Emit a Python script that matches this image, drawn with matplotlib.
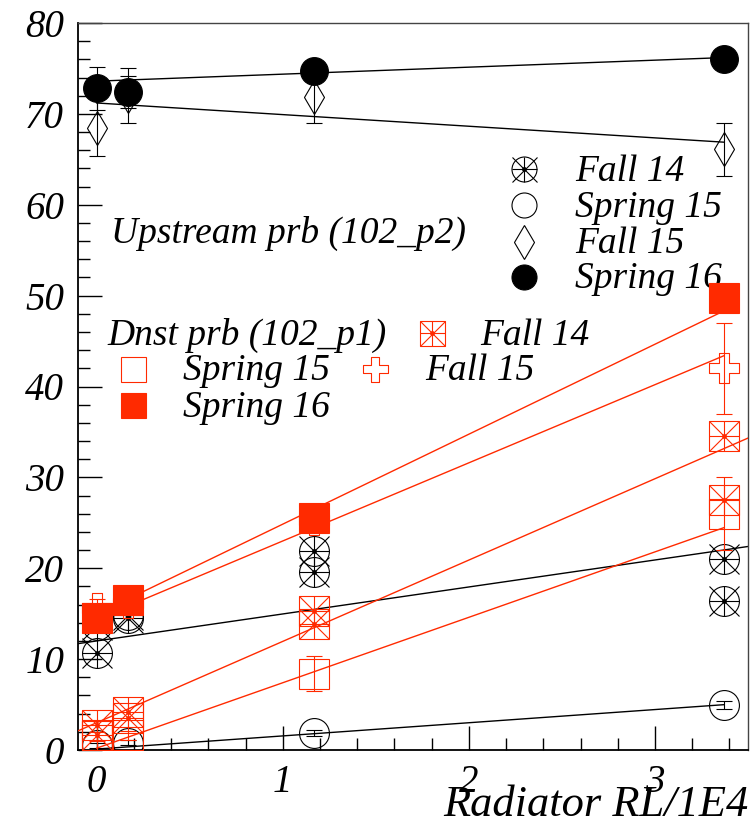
import numpy as np
import matplotlib.pyplot as plt
from matplotlib.path import Path

plt.rcParams['font.family'] = ['Liberation Serif', 'DejaVu Serif']
plt.rcParams['font.style'] = 'italic'

RED = '#ff2a00'
BLACK = 'black'

radiator = np.array([0.0, 0.17, 1.17, 3.37])

# upstream probe (102_p2)
up_fall14_a = [10.7, 14.9, 21.9, 21.0]
up_fall14_b = [13.8, 14.5, 19.6, 16.4]
up_spring15 = [0.5, 0.8, 1.85, 4.96]
up_spring15_err = [0.3, 0.3, 0.3, 0.4]
up_fall15 = [68.5, 72.0, 71.9, 66.1]
up_fall15_err = [3.1, 3.0, 2.9, 2.95]
up_spring16 = [72.8, 72.4, 74.7, 76.0]
up_spring16_err = [2.4, 1.8, 0.8, 0.8]

# downstream probe (102_p1)
dn_fall14_a = [2.7, 4.2, 15.3, 34.5]
dn_fall14_b = [1.7, 3.5, 13.9, 27.5]
dn_spring15 = [1.5, 1.6, 8.4, 26.0]
dn_spring15_err = [0.5, 0.5, 1.9, 4.0]
dn_fall15 = [15.6, 16.2, 25.3, 42.0]
dn_fall15_err = [1.0, 1.0, 1.0, 5.0]
dn_spring16 = [14.5, 16.5, 25.5, 49.7]

# linear fits: (intercept, slope, x range)
up_fall14_fit = (12.0, 2.97, (-0.1, 3.5))
up_spring15_fit = (0.1, 1.45, (0.0, 3.37))
up_fall15_fit = (71.2, -1.28, (0.0, 3.37))
up_spring16_fit = (73.6, 0.77, (0.0, 3.37))
dn_fall14_fit = (3.0, 8.95, (-0.1, 3.5))
dn_spring15_fit = (0.2, 7.2, (0.0, 3.37))
dn_fall15_fit = (14.4, 8.6, (0.0, 3.37))
dn_spring16_fit = (14.95, 9.9, (0.0, 3.37))

# open cross marker
s = 1.0 / 6
cross_verts = [(-s, -0.5), (s, -0.5), (s, -s), (0.5, -s), (0.5, s), (s, s),
               (s, 0.5), (-s, 0.5), (-s, s), (-0.5, s), (-0.5, -s), (-s, -s),
               (-s, -0.5)]
open_cross = Path(cross_verts, closed=True)

MS = 21.5
MEW = 0.8


def starred(ax, x, y, base, color, ms=MS, z=3, **kw):
    for m in (base, '+', 'x'):
        ax.plot(x, y, ls='none', marker=m, ms=ms, mfc='none', mec=color,
                mew=MEW, zorder=z, **kw)
    ax.plot(x, y, ls='none', marker='o', ms=2.5, mfc=color, mec=color,
            zorder=z, **kw)


def simple(ax, x, y, marker, color, filled, ms=MS, z=3, **kw):
    ax.plot(x, y, ls='none', marker=marker, ms=ms,
            mfc=color if filled else 'none', mec=color, mew=MEW, zorder=z, **kw)


def errbars(ax, x, y, err, color, z=3):
    ax.errorbar(x, y, yerr=err, fmt='none', ecolor=color, elinewidth=MEW,
                capsize=5.5, capthick=MEW, zorder=z)


def fit_line(ax, fit, color, z=3):
    a, b, (lo, hi) = fit
    xf = np.array([lo, hi])
    ax.plot(xf, a + b * xf, color=color, lw=1.0, zorder=z)


fig = plt.figure(figsize=(7.51, 8.31), dpi=100)
ax = fig.add_axes([78 / 751, 1 - 750 / 831, 670 / 751, 727 / 831])

# upstream probe
fit_line(ax, up_fall14_fit, BLACK, 2)
starred(ax, radiator, up_fall14_a, 'o', BLACK, z=2)
starred(ax, radiator, up_fall14_b, 'o', BLACK, z=2)

fit_line(ax, up_spring15_fit, BLACK, 2)
errbars(ax, radiator, up_spring15, up_spring15_err, BLACK, 2)
simple(ax, radiator, up_spring15, 'o', BLACK, False, z=2)

fit_line(ax, up_fall15_fit, BLACK, 2)
errbars(ax, radiator, up_fall15, up_fall15_err, BLACK, 2)
simple(ax, radiator, up_fall15, 'd', BLACK, False, ms=17, z=2)

fit_line(ax, up_spring16_fit, BLACK, 2)
errbars(ax, radiator, up_spring16, up_spring16_err, BLACK, 2)
simple(ax, radiator, up_spring16, 'o', BLACK, True, ms=20, z=2)

# downstream probe
fit_line(ax, dn_fall14_fit, RED, 3)
starred(ax, radiator, dn_fall14_a, 's', RED, z=3)
starred(ax, radiator, dn_fall14_b, 's', RED, z=3)

fit_line(ax, dn_spring15_fit, RED, 3)
errbars(ax, radiator, dn_spring15, dn_spring15_err, RED, 3)
simple(ax, radiator, dn_spring15, 's', RED, False, z=3)

fit_line(ax, dn_fall15_fit, RED, 3)
errbars(ax, radiator, dn_fall15, dn_fall15_err, RED, 3)
simple(ax, radiator, dn_fall15, open_cross, RED, False, z=3)

fit_line(ax, dn_spring16_fit, RED, 4)
simple(ax, radiator, dn_spring16, 's', RED, True, ms=21, z=4)

ax.set_xlim(-0.1, 3.5)
ax.set_ylim(0, 80)
ax.set_xticks([0, 1, 2, 3])
ax.set_xticks(np.arange(-0.0, 3.5, 0.2), minor=True)
ax.set_yticks(np.arange(0, 81, 10))
ax.set_yticks(np.arange(0, 81, 2), minor=True)
ax.tick_params(which='major', direction='in', length=17, width=1.0,
               labelsize=28)
ax.tick_params(which='minor', direction='in', length=8.5, width=1.0)
ax.tick_params(axis='y', pad=10)
ax.tick_params(axis='x', pad=10)
for side in ('left', 'bottom'):
    ax.spines[side].set_linewidth(1.3)
for side in ('top', 'right'):
    ax.spines[side].set_linewidth(1.0)
    ax.spines[side].set_color('#444444')

ax.text(1.0, -0.076, 'Radiator RL/1E4', transform=ax.transAxes,
        ha='right', va='center', fontsize=32)

# upstream legend
ax.text(0.075, 55.8, 'Upstream prb (102_p2)', fontsize=27, va='baseline')
leg_x, txt_x = 2.296, 2.57
starred(ax, [leg_x], [63.9], 'o', BLACK, ms=18, z=5, clip_on=False)
ax.text(txt_x, 62.6, 'Fall 14', fontsize=27, va='baseline')
simple(ax, [leg_x], [60.0], 'o', BLACK, False, ms=18, z=5)
ax.text(txt_x, 58.6, 'Spring 15', fontsize=27, va='baseline')
simple(ax, [leg_x], [55.9], 'd', BLACK, False, ms=17, z=5)
ax.text(txt_x, 54.7, 'Fall 15', fontsize=27, va='baseline')
simple(ax, [leg_x], [52.05], 'o', BLACK, True, ms=18, z=5)
ax.text(txt_x, 50.8, 'Spring 16', fontsize=27, va='baseline', zorder=1)

# downstream legend
ax.text(0.06, 44.6, 'Dnst prb (102_p1)', fontsize=27, va='baseline')
starred(ax, [1.80], [45.9], 's', RED, ms=18, z=5)
ax.text(2.06, 44.6, 'Fall 14', fontsize=27, va='baseline')
simple(ax, [0.194], [41.9], 's', RED, False, ms=18, z=5)
ax.text(0.462, 40.7, 'Spring 15', fontsize=27, va='baseline')
simple(ax, [1.495], [41.9], open_cross, RED, False, ms=18, z=5)
ax.text(1.763, 40.7, 'Fall 15', fontsize=27, va='baseline')
simple(ax, [0.194], [37.96], 's', RED, True, ms=18, z=5)
ax.text(0.462, 36.6, 'Spring 16', fontsize=27, va='baseline')

fig.savefig('out.png', dpi=100)
